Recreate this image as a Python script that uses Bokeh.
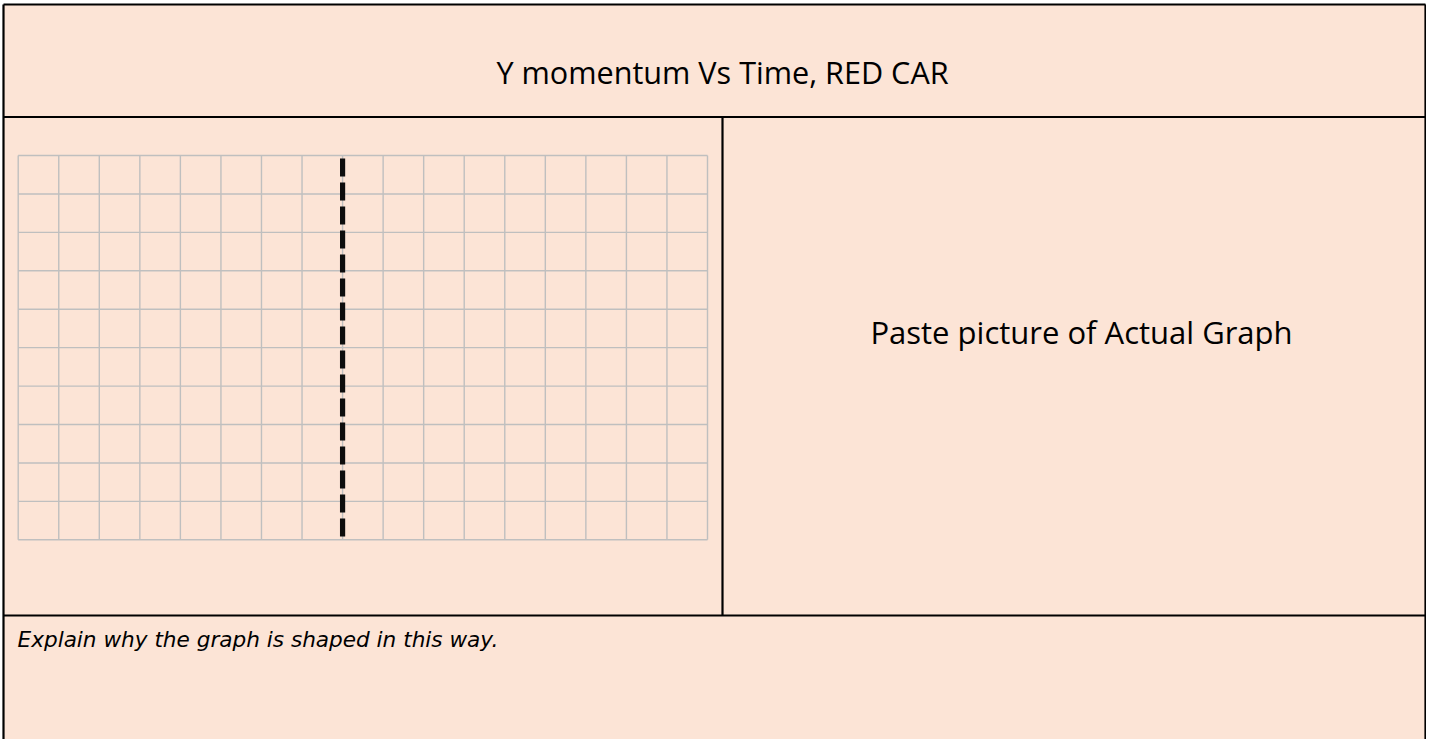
from bokeh.plotting import figure
from bokeh.models import Range1d
from bokeh.embed import file_html
from bokeh.resources import INLINE
from bokeh.core.properties import value

# ---------------- data ----------------
title_text = "Y momentum Vs Time, RED CAR"
right_text = "Paste picture of Actual Graph"
prompt_text = "Explain why the graph is shaped in this way."

time_gridlines = list(range(0, 18))       # 17 time divisions
momentum_gridlines = list(range(0, 11))   # 10 momentum divisions
sketch_time = [8, 8]                      # vertical dashed sketch line
sketch_momentum = [10, 0]

# ---------------- layout (canvas pixels) ----------------
W, H = 1426, 739
BG = "#fce4d6"
GRIDC = "#bfbfbf"

# chart area inside the left cell
cx0, cx1 = 17.7, 707.0
cy_top, cy_bot = 155.0, 539.3
cw = (cx1 - cx0) / (len(time_gridlines) - 1)
rh = (cy_bot - cy_top) / (len(momentum_gridlines) - 1)

p = figure(width=W, height=H, output_backend="svg", toolbar_location=None,
           x_range=Range1d(0, W), y_range=Range1d(H, 0),
           x_axis_location=None, y_axis_location=None, min_border=0)
p.grid.visible = False
p.outline_line_color = None
p.background_fill_color = "white"
p.border_fill_color = "white"

p.extra_x_ranges = {"t": Range1d((0 - cx0) / cw, (W - cx0) / cw)}
p.extra_y_ranges = {"m": Range1d((cy_bot - H) / rh, (cy_bot - 0) / rh)}

# table background
xl, xr = 3.0, W - 1.0
yt, yb = 4.0, H
p.quad(left=[xl], right=[xr], top=[yt], bottom=[yb], fill_color=BG, line_color=None)

# grid
n_t = time_gridlines[-1]
n_m = momentum_gridlines[-1]
p.segment(x0=time_gridlines, y0=[0] * len(time_gridlines),
          x1=time_gridlines, y1=[n_m] * len(time_gridlines),
          line_color=GRIDC, line_width=1.4, x_range_name="t", y_range_name="m")
p.segment(x0=[0] * len(momentum_gridlines), y0=momentum_gridlines,
          x1=[n_t] * len(momentum_gridlines), y1=momentum_gridlines,
          line_color=GRIDC, line_width=1.4, x_range_name="t", y_range_name="m")

# dashed sketch line
p.line(sketch_time, sketch_momentum, line_color="#0d0d0d", line_width=5.2,
       line_dash="18 6", line_dash_offset=21, x_range_name="t", y_range_name="m")

# table borders
BW = 2.2
y_title = 116.5
y_mid = 615.0
x_div = 722.0
p.segment(x0=[xl, xr, xl, xl, xl, x_div], y0=[yt, yt, yt, y_title, y_mid, y_title],
          x1=[xl, xr, xr, xr, xr, x_div], y1=[yb, yb, yt, y_title, y_mid, y_mid],
          line_color="black", line_width=BW)

# texts
FONT = value("Open Sans")
p.text(x=[722], y=[71], text=[title_text], text_font=FONT, text_font_size="30.6px",
       text_align="center", text_baseline="alphabetic", text_color="black")
p.text(x=[1081], y=[331], text=[right_text], text_font=FONT, text_font_size="31px",
       text_align="center", text_baseline="alphabetic", text_color="black")
p.text(x=[17], y=[638.5], text=[prompt_text], text_font=value("DejaVu Sans"),
       text_font_size="21.6px", text_font_style="italic", text_align="left",
       text_baseline="alphabetic", text_color="black")

open("out.html", "w").write(file_html(p, INLINE))
